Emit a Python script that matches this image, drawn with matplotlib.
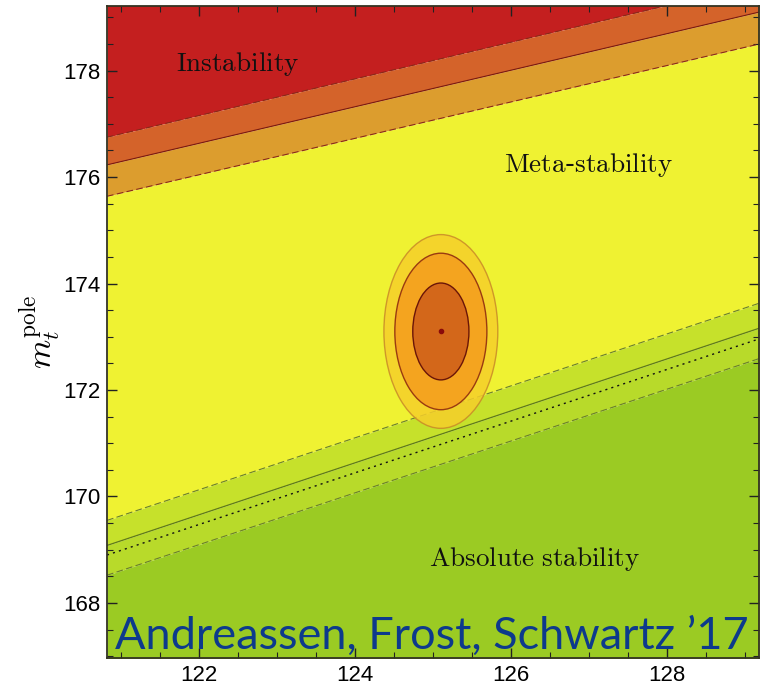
import numpy as np
import matplotlib.pyplot as plt
from matplotlib.patches import Ellipse
from matplotlib.ticker import MultipleLocator

plt.rcParams['mathtext.fontset'] = 'cm'

# Higgs mass range and boundary values at the two edges
mh_edges = [120.82, 129.18]
instab_hi = [176.75, 179.63]    # dashed, upper band edge
instab_mid = [176.23, 179.10]   # solid, central value
instab_lo = [175.64, 178.50]    # dashed, lower band edge
abs_hi = [169.55, 173.63]       # dashed
abs_mid = [169.08, 173.16]      # solid
abs_dot = [168.90, 172.96]      # dotted
abs_lo = [168.52, 172.59]       # dashed

# measurement point and 1/2/3 sigma ellipses (semi-axes)
mh0, mt0 = 125.1, 173.1
semi_x = [0.73, 0.59, 0.36]
semi_y = [1.82, 1.47, 0.91]
ell_fill = ['#f6cf2a', '#f4a41f', '#d3671a']
ell_edge = ['#c98a28', '#9a3a10', '#6a1508']

ylim = (166.96, 179.22)

fig = plt.figure(figsize=(7.66, 6.88), dpi=100)
ax = fig.add_axes([0.1397, 0.0432, 0.8513, 0.9485])

x = np.array(mh_edges)
top = np.full(2, 185.0)
bot = np.full(2, 160.0)

ax.fill_between(x, instab_hi, top, color='#c41f1f', lw=0)
ax.fill_between(x, instab_mid, instab_hi, color='#d4632a', lw=0)
ax.fill_between(x, instab_lo, instab_mid, color='#dc9d2e', lw=0)
ax.fill_between(x, abs_hi, instab_lo, color='#eff232', lw=0)
ax.fill_between(x, abs_mid, abs_hi, color='#c6e12b', lw=0)
ax.fill_between(x, abs_lo, abs_mid, color='#b8da2a', lw=0)
ax.fill_between(x, bot, abs_lo, color='#9bcb23', lw=0)

ax.plot(x, instab_hi, color='#8a2a18', lw=0.8, ls=(0, (6, 3)))
ax.plot(x, instab_mid, color='#7a1a10', lw=0.8)
ax.plot(x, instab_lo, color='#8a2a18', lw=0.8, ls=(0, (6, 3)))
ax.plot(x, abs_hi, color='#6a7f2a', lw=0.8, ls=(0, (6, 3)))
ax.plot(x, abs_mid, color='#5f7a1a', lw=0.9)
ax.plot(x, abs_dot, color='#111111', lw=1.0, ls=(0, (1.5, 3)))
ax.plot(x, abs_lo, color='#6a7f2a', lw=0.8, ls=(0, (6, 3)))

for i in range(3):
    e = Ellipse((mh0, mt0), 2 * semi_x[i], 2 * semi_y[i],
                facecolor=ell_fill[i], edgecolor=ell_edge[i], lw=1.0,
                alpha=0.85 if i == 0 else 1.0, zorder=3)
    ax.add_patch(e)
ax.plot([mh0], [mt0], 'o', color='#8a0a0a', ms=3, zorder=4)

ax.text(122.5, 178.13, r'$\mathrm{Instability}$', fontsize=19.5,
        ha='center', va='center', color='#111111')
ax.text(127.0, 176.23, r'$\mathrm{Meta}$-$\mathrm{stability}$', fontsize=19.5,
        ha='center', va='center', color='#111111')
ax.text(126.3, 168.82, r'$\mathrm{Absolute\ stability}$', fontsize=19.5,
        ha='center', va='center', color='#111111')

ax.text(0.012, 0.015, "Andreassen, Frost, Schwartz \u201917",
        transform=ax.transAxes, fontsize=32.5, family='Lato',
        color='#0d3a8c', ha='left', va='baseline', zorder=5)

ax.set_xlim(*mh_edges)
ax.set_ylim(*ylim)
ax.xaxis.set_major_locator(MultipleLocator(2))
ax.xaxis.set_minor_locator(MultipleLocator(0.5))
ax.yaxis.set_major_locator(MultipleLocator(2))
ax.yaxis.set_minor_locator(MultipleLocator(0.5))
ax.tick_params(which='both', direction='in', top=True, right=True,
               color='#222222')
ax.tick_params(which='major', length=7, width=1.0)
ax.tick_params(which='minor', length=4, width=0.8)
for lab in ax.get_xticklabels() + ax.get_yticklabels():
    lab.set_family('Liberation Sans')
    lab.set_fontsize(16)
ax.tick_params(axis='x', pad=5)
ax.tick_params(axis='y', pad=5)

for s in ax.spines.values():
    s.set_color('#333322')
    s.set_linewidth(1.3)

ax.set_ylabel(r'$m_t^{\mathrm{pole}}$', fontsize=24, labelpad=0)

fig.savefig('out.png', dpi=100)
